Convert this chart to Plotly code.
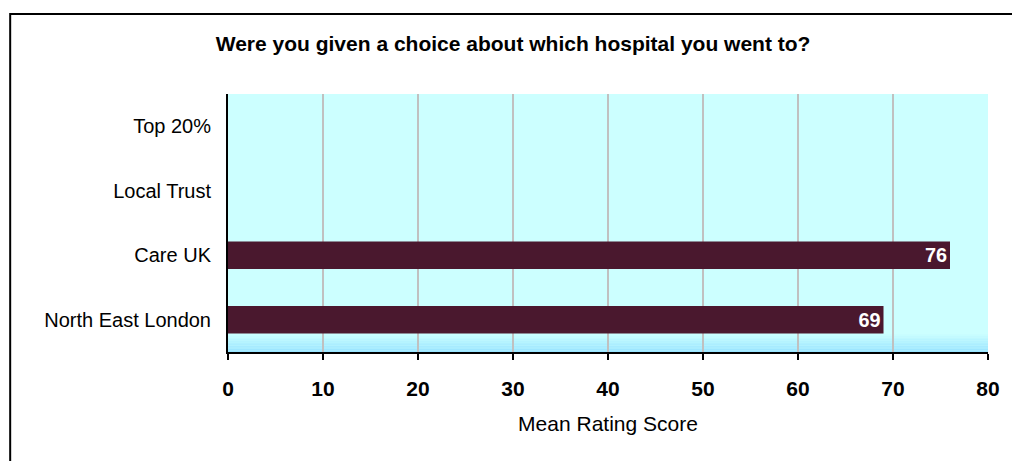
import plotly.graph_objects as go

categories = ["North East London", "Care UK", "Local Trust", "Top 20%"]
scores = [69, 76, None, None]
score_labels = ["69", "76", "", ""]
x_ticks = [0, 10, 20, 30, 40, 50, 60, 70, 80]

fig = go.Figure()
fig.add_trace(go.Bar(
    y=categories, x=scores, orientation="h",
    marker=dict(color="#4A182E", line=dict(width=0)),
    width=0.43,
    text=score_labels, textposition="inside", insidetextanchor="end",
    textfont=dict(family="Arial, Liberation Sans", size=21, color="white", weight="bold"),
    cliponaxis=False,
))

# light blue fade at the foot of the plot area
shapes = []
n = 12
top_c = (0xCC, 0xFF, 0xFF)
bot_c = (0x99, 0xE4, 0xFF)
for i in range(n):
    t = i / (n - 1)
    c = tuple(round(bot_c[k] + (top_c[k] - bot_c[k]) * t) for k in range(3))
    shapes.append(dict(type="rect", xref="paper", yref="paper",
                       x0=0, x1=1, y0=0.075 * i / n, y1=0.075 * (i + 1) / n,
                       fillcolor="rgb(%d,%d,%d)" % c, line=dict(width=0), layer="below"))
# outer frame
shapes.append(dict(type="rect", xref="paper", yref="paper",
                   x0=-0.2866, x1=1.2, y0=-0.7, y1=1.31,
                   line=dict(color="black", width=2), fillcolor="rgba(0,0,0,0)"))

fig.update_layout(
    width=1012, height=461,
    margin=dict(l=228, r=20, t=94, b=109),
    paper_bgcolor="white", plot_bgcolor="#CCFFFF",
    font=dict(family="Arial, Liberation Sans", size=21, color="black"),
    title=dict(text="<b>Were you given a choice about which hospital you went to?</b>",
               x=0.507, xanchor="center", y=0.905, yanchor="middle",
               font=dict(size=21)),
    showlegend=False,
    shapes=shapes,
    xaxis=dict(range=[0, 80], tickvals=x_ticks, ticktext=["<b>%d</b>" % v for v in x_ticks],
               showgrid=True, gridcolor="#C0C0C0", gridwidth=2,
               showline=True, linecolor="black", linewidth=2,
               ticks="outside", ticklen=6, tickcolor="black", tickwidth=2,
               zeroline=False, tickfont=dict(size=21), ticklabelstandoff=11,
               title=dict(text="Mean Rating Score", standoff=17, font=dict(size=21))),
    yaxis=dict(categoryorder="array", categoryarray=categories,
               showline=True, linecolor="black", linewidth=2,
               showgrid=False, ticks="", ticklabelstandoff=11,
               tickfont=dict(size=20)),
)

fig.write_html("out.html", config={"displayModeBar": False},
               post_script="document.body.style.margin='0';")
